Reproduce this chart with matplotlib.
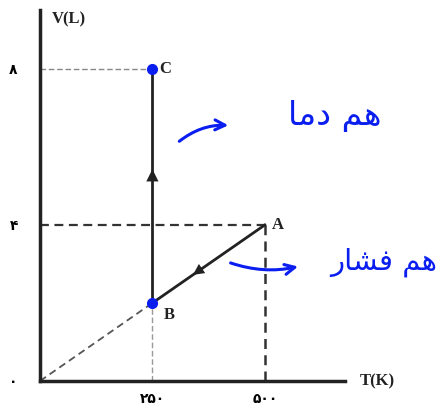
import matplotlib.pyplot as plt

# state points (T in K, V in L)
points = ['A', 'B', 'C']
temps = [500, 250, 250]
vols = [4, 2, 8]

xtick_vals = [250, 500]
xtick_labels = ['۲۵۰', '۵۰۰']
ytick_vals = [0, 4, 8]
ytick_labels = ['۰', '۴', '۸']

# hand written notes (pre-shaped arabic letters, visual order)
note_iso_t = '\uFE8E\uFEE3\uFEA9 \uFEE2\uFEEB'          # هم دما
note_iso_p = '\uFEAD\uFE8E\uFEB8\uFED3 \uFEE2\uFEEB'    # هم فشار

pen = '#0b1ef0'

fig = plt.figure(figsize=(4.47, 4.07), dpi=100)
ax = fig.add_axes([0.0895, 0.0639, 0.682, 0.9115])
ax.set_xlim(0, 678)
ax.set_ylim(0, 9.51)

TA, TB, TC = temps
VA, VB, VC = vols

# guide lines
ax.plot([0, TC], [VC, VC], ls=(0, (4, 2)), color='#888888', lw=1.0)
ax.plot([0, TA], [VA, VA], ls=(0, (4, 2.5)), color='#333333', lw=1.6)
ax.plot([TA, TA], [0, VA], ls=(0, (4, 2.5)), color='#333333', lw=1.8)
ax.plot([TB, TB], [0, VB], ls=(0, (4, 2)), color='#999999', lw=1.0)
ax.plot([0, TB], [0, VB], ls=(0, (4, 2.5)), color='#555555', lw=1.3)

# process lines
ax.plot([TA, TB], [VA, VB], color='#222222', lw=2.0)
ax.plot([TB, TC], [VB, VC], color='#222222', lw=2.0)

# direction arrows on the process lines
ax.annotate('', xy=(TB, 5.5), xytext=(TB, 5.0),
            arrowprops=dict(arrowstyle='-|>', color='#222222', lw=0, mutation_scale=22))
ax.annotate('', xy=(335, 335 * VA / TA), xytext=(385, 385 * VA / TA),
            arrowprops=dict(arrowstyle='-|>', color='#222222', lw=0, mutation_scale=20))

# blue dots at B and C
ax.plot([TB, TC], [VB, VC], 'o', color=pen, ms=7, zorder=5)

# point labels
lab_font = dict(family='Liberation Serif', fontweight='bold', fontsize=12, color='#222222')
ax.text(TA + 15, VA, 'A', ha='left', va='center', **lab_font)
ax.text(TB + 25, VB - 0.3, 'B', ha='left', va='center', **lab_font)
ax.text(TC + 15, VC, 'C', ha='left', va='center', **lab_font)

# axes styling
for s in ['top', 'right']:
    ax.spines[s].set_visible(False)
for s in ['left', 'bottom']:
    ax.spines[s].set_linewidth(2.5)
    ax.spines[s].set_color('#222222')
ax.set_xticks(xtick_vals)
ax.set_xticklabels(xtick_labels, fontsize=10, fontweight='bold')
ax.set_yticks(ytick_vals)
ax.set_yticklabels(ytick_labels, fontsize=10, fontweight='bold')
ax.tick_params(length=0)
ax.tick_params(axis='x', pad=8)
ax.tick_params(axis='y', pad=16)

ax.text(0.04, 0.975, 'V(L)', transform=ax.transAxes, ha='left', va='center', **lab_font)
ax.text(1.05, 0.0, 'T(K)', transform=ax.transAxes, ha='left', va='center', **lab_font)

# hand written notes with curved arrows
ax.annotate('', xy=(425, 6.55), xytext=(305, 6.1),
            arrowprops=dict(arrowstyle='->', color=pen, lw=2.2, mutation_scale=18,
                            connectionstyle='arc3,rad=-0.2'))
ax.text(655, 6.8, note_iso_t, color=pen, fontsize=24, ha='center', va='center')

ax.annotate('', xy=(580, 2.95), xytext=(418, 3.05),
            arrowprops=dict(arrowstyle='->', color=pen, lw=2.2, mutation_scale=18,
                            connectionstyle='arc3,rad=0.15'))
ax.text(765, 3.05, note_iso_p, color=pen, fontsize=21, ha='center', va='center')

plt.savefig('out.png', dpi=100)
